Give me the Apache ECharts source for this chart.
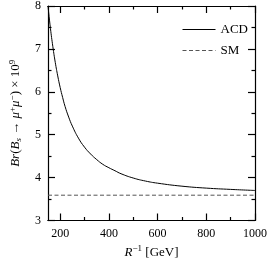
<!DOCTYPE html>
<html><head><meta charset="utf-8">
<script src="https://cdn.jsdelivr.net/npm/echarts@6/dist/echarts.min.js"></script>
<style>html,body{margin:0;padding:0;background:#fff}#c{width:270px;height:264px}</style>
</head><body><div id="c"></div>
<script>
var rInv = [150,160,170,180,190,200,210,220,235,250,275,300,325,350,375,400,425,450,500,550,600,700,800,900,1000];
var acd  = [8.0,7.48,7.05,6.68,6.37,6.10,5.87,5.66,5.41,5.20,4.92,4.71,4.55,4.42,4.31,4.23,4.16,4.09,3.99,3.92,3.87,3.80,3.755,3.725,3.70];
var smX = [150,1000];
var smY = [3.59,3.59];
var xTicks = [200,400,600,800,1000];
var xMinor = [300,500,700,900];
var yTicks = [3,4,5,6,7,8];

var font = 'Liberation Serif';
var chart = echarts.init(document.getElementById('c'), null, {renderer:'canvas'});
var rich = {
  n:{fontFamily:font,fontSize:13,color:'#000'},
  i:{fontFamily:font,fontSize:13,fontStyle:'italic',color:'#000'},
  sup:{fontFamily:font,fontSize:9,color:'#000',padding:[0,0,7,0]},
  sub:{fontFamily:font,fontSize:9,fontStyle:'italic',color:'#000',padding:[6,0,0,0]}
};
var line = {show:true,onZero:false,lineStyle:{color:'#000',width:1.2}};
function xAx(pos, values, len, labels){
  var o = {type:'value',min:150,max:1000,position:pos,
    axisLine:line,splitLine:{show:false},
    axisTick:{show:true,inside:true,length:len,customValues:values,lineStyle:{color:'#000',width:1.2}},
    axisLabel:{show:false}};
  if(labels){
    o.axisLabel = {show:true,customValues:xTicks,fontFamily:font,fontSize:12,color:'#000',margin:7,
      formatter:function(v){return String(v);}};
    o.name = '{i|R}{sup|−1} {n|[GeV]}';
    o.nameLocation='middle'; o.nameGap=24; o.nameTextStyle={rich:rich};
  }
  return o;
}
function yAx(pos, labels){
  var o = {type:'value',min:3,max:8,interval:1,position:pos,
    axisLine:line,splitLine:{show:false},
    axisTick:{show:true,inside:true,length:7,lineStyle:{color:'#000',width:1.2}},
    minorTick:{show:true,splitNumber:2,length:3.5,lineStyle:{color:'#000',width:1.2}},
    axisLabel:{show:false}};
  if(labels){
    o.axisLabel = {show:true,customValues:yTicks,fontFamily:font,fontSize:12,color:'#000',margin:7};
    o.name = '{i|Br}{n|(}{i|B}{sub|s}{n| → }{i|μ}{sup|+}{i|μ}{sup|−}{n|) × 10}{sup|9}';
    o.nameLocation='middle'; o.nameGap=24; o.nameRotate=90; o.nameTextStyle={rich:rich};
  }
  return o;
}

chart.setOption({
  animation:false,
  grid:{left:36,right:14.5,top:4,bottom:39.3,containLabel:false},
  legend:{orient:'vertical',left:177,top:18,itemWidth:33,itemHeight:10,itemGap:8,
    lineStyle:{width:1},
    textStyle:{fontFamily:font,fontSize:13,color:'#000'},
    data:[{name:'ACD',itemStyle:{opacity:0}},{name:'SM',itemStyle:{opacity:0}}]},
  xAxis:[xAx('bottom',xTicks,7,true),xAx('bottom',xMinor,3.5,false),xAx('top',xTicks,7,false),xAx('top',xMinor,3.5,false)],
  yAxis:[yAx('left',true),yAx('right',false)],
  series:[
    {name:'ACD',type:'line',smooth:true,symbol:'none',xAxisIndex:0,yAxisIndex:0,
     data:rInv.map(function(x,i){return [x,acd[i]];}),
     itemStyle:{color:'#000'},
     lineStyle:{color:'#000',width:1}},
    {name:'SM',type:'line',symbol:'none',xAxisIndex:0,yAxisIndex:0,
     data:smX.map(function(x,i){return [x,smY[i]];}),
     itemStyle:{color:'#555'},
     lineStyle:{color:'#555',width:1,type:[4,2.5]}}
  ]
});
</script></body></html>
